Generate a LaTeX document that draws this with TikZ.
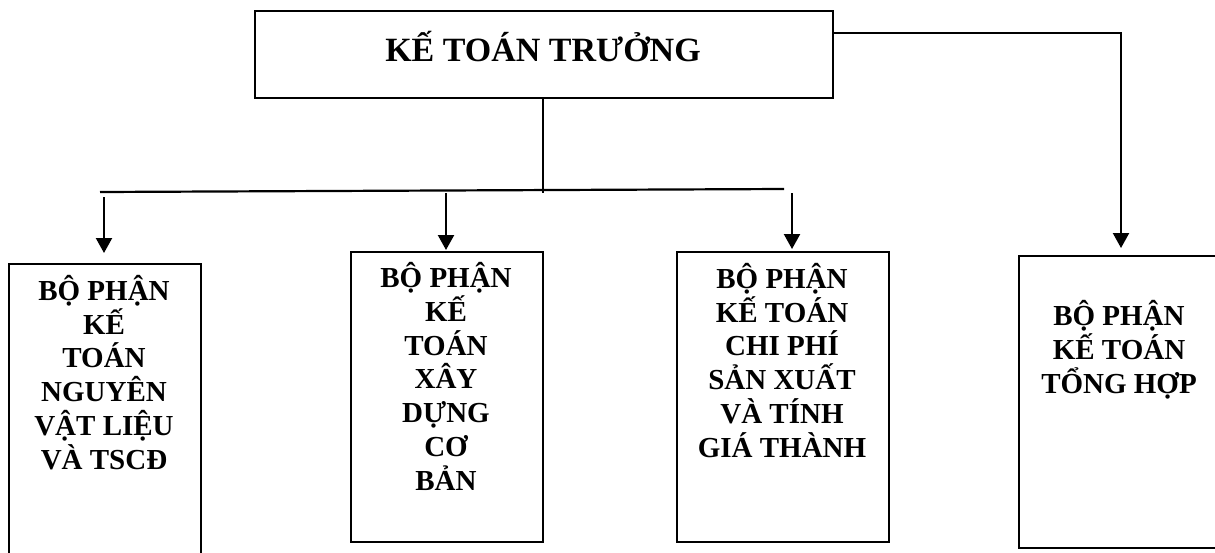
\documentclass[tikz,border=0pt]{standalone}
\usepackage{fontspec}
\setmainfont{Liberation Serif}
\usetikzlibrary{arrows.meta}

\tikzset{
  unitbox/.style={draw, line width=2.4pt, inner sep=0pt, anchor=north west},
  boxtext/.style={font=\bfseries\fontsize{29}{33.7}\selectfont, align=center, inner sep=0pt, anchor=base},
  link/.style={line width=2.2pt},
  arrowlink/.style={line width=2.2pt, -{Triangle[width=16pt,length=15pt]}},
}

\begin{document}
\begin{tikzpicture}[x=1pt, y=-1pt]
  \useasboundingbox (0,0) rectangle (1215,552);
  \clip (0,0) rectangle (1215,552);

  % head of accounting
  \node[unitbox, minimum width=578pt, minimum height=87pt] (head) at (254,10) {};
  \node[font=\bfseries\fontsize{34}{40}\selectfont, inner sep=0pt, anchor=base] (headtext) at (543,61) {KẾ TOÁN TRƯỞNG};

  % departments
  \node[unitbox, minimum width=192pt, minimum height=320pt] (d1) at (8,263) {};
  \node[unitbox, minimum width=192pt, minimum height=290pt] (d2) at (350,251) {};
  \node[unitbox, minimum width=212pt, minimum height=290pt] (d3) at (676,251) {};
  \node[unitbox, minimum width=220pt, minimum height=292pt] (d4) at (1018,255) {};

  % department names (anchored on the baseline of the last line)
  \node[boxtext] (t1) at (104,469) {BỘ PHẬN\\KẾ\\TOÁN\\NGUYÊN\\VẬT LIỆU\\VÀ TSCĐ};
  \node[boxtext] (t2) at (446,490) {BỘ PHẬN\\KẾ\\TOÁN\\XÂY\\DỰNG\\CƠ\\BẢN};
  \node[boxtext] (t3) at (782,457) {BỘ PHẬN\\KẾ TOÁN\\CHI PHÍ\\SẢN XUẤT\\VÀ TÍNH\\GIÁ THÀNH};
  \node[boxtext] (t4) at (1119,393) {BỘ PHẬN\\KẾ TOÁN\\TỔNG HỢP};

  % distribution bus
  \coordinate (busL) at (100,192);
  \coordinate (busR) at (784,189);
  \coordinate (busM) at (543,193);
  \draw[link] (head.south -| busM) -- (busM);
  \draw[link] (busL) -- (busR);

  \coordinate (a1) at (104,197);
  \coordinate (a2) at (446,193);
  \coordinate (a3) at (792,193);
  \draw[arrowlink, shorten >=10pt] (a1) -- (a1 |- d1.north);
  \draw[arrowlink, shorten >=1pt] (a2) -- (a2 |- d2.north);
  \draw[arrowlink, shorten >=2pt] (a3) -- (a3 |- d3.north);

  % direct line to the general accounting unit
  \coordinate (hr) at (832,33);
  \coordinate (corner) at (1121,33);
  \draw[arrowlink, shorten >=7pt] (hr) -- (corner) -- (corner |- d4.north);
\end{tikzpicture}
\end{document}
